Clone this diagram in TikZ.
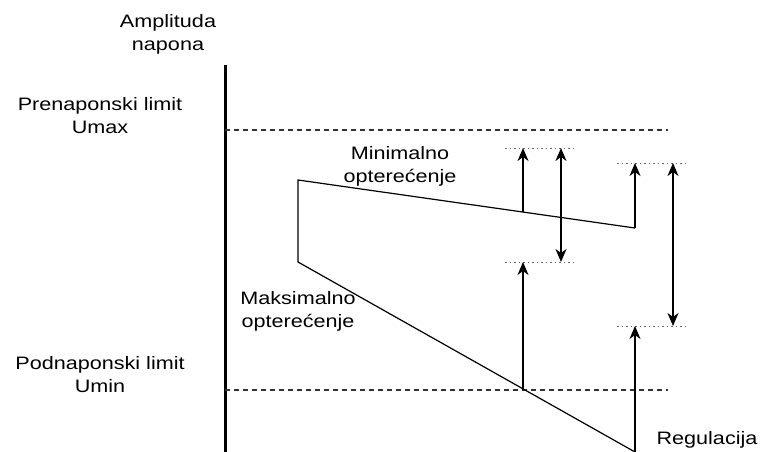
\documentclass[tikz,border=0pt]{standalone}
\usepackage{fontspec}
\setmainfont[FakeStretch=1.2]{Liberation Sans}
\usetikzlibrary{arrows.meta}
\begin{document}
\begin{tikzpicture}[x=1pt,y=-1pt,
  lbl/.style={align=center,font=\fontsize{18}{23}\selectfont,inner sep=0pt},
  limline/.style={dash pattern=on 5pt off 4pt,line width=1.2pt,draw=black!80},
  dotline/.style={dash pattern=on 1.5pt off 3pt,line width=1pt,draw=black!60},
  curve/.style={line width=1.2pt},
  arr/.style={line width=1.4pt,-{Stealth[length=13pt,width=11pt,inset=4pt]}},
  darr/.style={line width=1.4pt,{Stealth[length=13pt,width=11pt,inset=4pt]}-{Stealth[length=13pt,width=11pt,inset=4pt]}}]
\useasboundingbox (0,0) rectangle (760,452);
% axis
\coordinate (axT) at (225,65);
\coordinate (axB) at (225,452);
\draw[line width=3pt] (axT) -- (axB);
% labels
\node[lbl] (amp) at (168,34) {Amplituda\\napona};
\node[lbl] (umax) at (100,116) {Prenaponski limit\\Umax};
\node[lbl] (umin) at (100,375) {Podnaponski limit\\Umin};
\node[lbl] (minl) at (400,166) {Minimalno\\optere\'cenje};
\node[lbl] (maxl) at (298,311) {Maksimalno\\optere\'cenje};
\node[lbl] (reg) at (707,440) {Regulacija};
% limit lines
\coordinate (hiL) at (225,130); \coordinate (hiR) at (668,130);
\coordinate (loL) at (225,390); \coordinate (loR) at (668,390);
\draw[limline] (hiL) -- (hiR);
\draw[limline] (loL) -- (loR);
% characteristic
\coordinate (p1) at (635,228);
\coordinate (p2) at (298,180);
\coordinate (p3) at (298,262);
\coordinate (p4) at (635,452);
\coordinate (q1) at (523,212);
\coordinate (q2) at (523,390);
\draw[curve] (p1) -- (p2) -- (p3) -- (p4);
% dotted reference lines
\coordinate (d1a) at (505,148); \coordinate (d1b) at (575,148);
\coordinate (d2a) at (505,262); \coordinate (d2b) at (575,262);
\coordinate (d3a) at (617,163); \coordinate (d3b) at (687,163);
\coordinate (d4a) at (617,326); \coordinate (d4b) at (687,326);
\draw[dotline] (d1a) -- (d1b);
\draw[dotline] (d2a) -- (d2b);
\draw[dotline] (d3a) -- (d3b);
\draw[dotline] (d4a) -- (d4b);
% arrows
\coordinate (a1t) at (523,148);
\coordinate (a3t) at (523,262);
\coordinate (a2t) at (561,148); \coordinate (a2b) at (561,262);
\coordinate (a4t) at (635,163);
\coordinate (a5t) at (673,163); \coordinate (a5b) at (673,326);
\coordinate (a6t) at (635,326); \coordinate (a6b) at (635,452);
\draw[arr] (q1) -- (a1t);
\draw[arr] (q2) -- (a3t);
\draw[darr] (a2t) -- (a2b);
\draw[arr] (p1) -- (a4t);
\draw[darr] (a5t) -- (a5b);
\draw[arr] (a6b) -- (a6t);
\end{tikzpicture}
\end{document}
